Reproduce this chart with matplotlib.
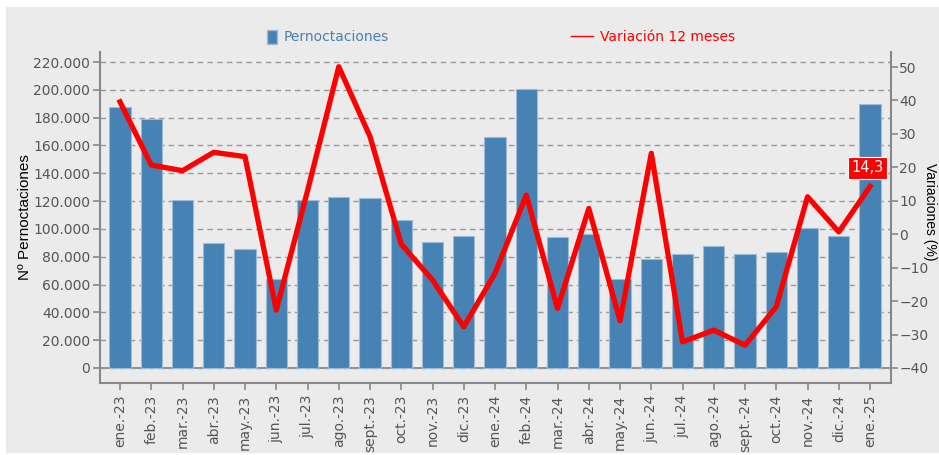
import matplotlib.pyplot as plt
from matplotlib.patches import Rectangle
from matplotlib.lines import Line2D
from matplotlib.ticker import FuncFormatter

# datos
meses = ['ene.-23', 'feb.-23', 'mar.-23', 'abr.-23', 'may.-23', 'jun.-23', 'jul.-23',
         'ago.-23', 'sept.-23', 'oct.-23', 'nov.-23', 'dic.-23', 'ene.-24', 'feb.-24',
         'mar.-24', 'abr.-24', 'may.-24', 'jun.-24', 'jul.-24', 'ago.-24', 'sept.-24',
         'oct.-24', 'nov.-24', 'dic.-24', 'ene.-25']
pernoctaciones = [188000, 179000, 120500, 89600, 85800, 63800, 120800,
                  123000, 122000, 106200, 90800, 94900, 166300, 200400,
                  94000, 96300, 63800, 78600, 82000, 87900, 82000,
                  83200, 100700, 95100, 189800]
variacion = [39.6, 20.7, 19.0, 24.5, 23.2, -22.7, 13.0,
             50.1, 29.2, -3.0, -13.7, -27.7, -11.7, 11.7,
             -22.2, 7.7, -25.9, 24.2, -32.2, -28.7, -33.2,
             -21.7, 11.2, 0.7, 14.3]
ticks_izq = list(range(0, 220001, 20000))
ticks_der = list(range(-40, 51, 10))

azul = '#4682b4'
rojo = '#ff0000'
gris = '#555555'

fig = plt.figure(figsize=(9.39, 4.55), dpi=100)
fig.patch.set_facecolor('white')
fig.patches.append(Rectangle((6 / 939, 1 - 453 / 455), 933 / 939, 446 / 455,
                             transform=fig.transFigure, facecolor='#ebebeb',
                             edgecolor='none', zorder=-10))

ax = fig.add_axes([100 / 939, 1 - 383 / 455, 791 / 939, 331 / 455])
ax.set_facecolor('none')
x = list(range(len(meses)))

ax.bar(x, pernoctaciones, width=0.68, color=azul, edgecolor='#9dbbd6', linewidth=0.8, zorder=2)
ax.set_xlim(-0.64, 24.67)
ax.set_ylim(-10800, 227200)
ax.set_yticks(ticks_izq)
ax.yaxis.set_major_formatter(FuncFormatter(lambda v, p: f'{int(v):,}'.replace(',', '.')))
ax.grid(axis='y', linestyle=(0, (4, 3)), color='#999999', linewidth=1, zorder=0)
ax.axhline(0, color='#888888', linewidth=1.3, zorder=1)
ax.set_xticks(x)
ax.set_xticklabels(meses, rotation=90)
ax.tick_params(colors='#888888', labelcolor=gris, labelsize=10, length=5, width=1.2)
ax.tick_params(axis='y', pad=2)
for s in ['top', 'right']:
    ax.spines[s].set_visible(False)
for s in ['left', 'bottom']:
    ax.spines[s].set_color('#888888')
    ax.spines[s].set_linewidth(1.5)
ax.set_ylabel('Nº Pernoctaciones', fontsize=11, family='Liberation Sans', labelpad=1)

ax2 = ax.twinx()
ax2.plot(x, variacion, color=rojo, linewidth=3.8, zorder=3)
ax2.set_ylim(-44.5, 54.5)
ax2.set_yticks(ticks_der)
ax2.tick_params(colors='#888888', labelcolor=gris, labelsize=10, length=5, width=1.2, pad=1)
for s in ['top', 'left', 'bottom']:
    ax2.spines[s].set_visible(False)
ax2.spines['right'].set_color('#888888')
ax2.spines['right'].set_linewidth(1.5)
# título del eje derecho, pegado al borde como en el original
fig.text(930 / 939, 1 - 212 / 455, 'Variaciones (%)', rotation=270, ha='center', va='center',
         fontsize=10, family='Liberation Sans')

# etiqueta del último valor
ax2.annotate(f'{variacion[-1]:.1f}'.replace('.', ','), (x[-1], variacion[-1]),
             xytext=(-2, 8), textcoords='offset points', ha='center', va='bottom',
             color='white', fontsize=10.5,
             bbox=dict(boxstyle='square,pad=0.25', facecolor=rojo, edgecolor='white', linewidth=0.8))

# leyenda (dos entradas separadas)
h1 = Rectangle((0, 0), 1, 1, facecolor=azul, edgecolor='#9dbbd6')
leg1 = fig.legend([h1], ['Pernoctaciones'], loc='center', bbox_to_anchor=(328 / 939, 1 - 37 / 455),
                  frameon=False, fontsize=10, handlelength=0.7, handleheight=1.2, handletextpad=0.5)
leg1.get_texts()[0].set_color(azul)
h2 = Line2D([], [], color=rojo, linewidth=1)
leg2 = fig.legend([h2], ['Variación 12 meses'], loc='center', bbox_to_anchor=(653 / 939, 1 - 37 / 455),
                  frameon=False, fontsize=10, handlelength=1.6, handletextpad=0.5)
leg2.get_texts()[0].set_color(rojo)

plt.savefig('out.png', dpi=100)
